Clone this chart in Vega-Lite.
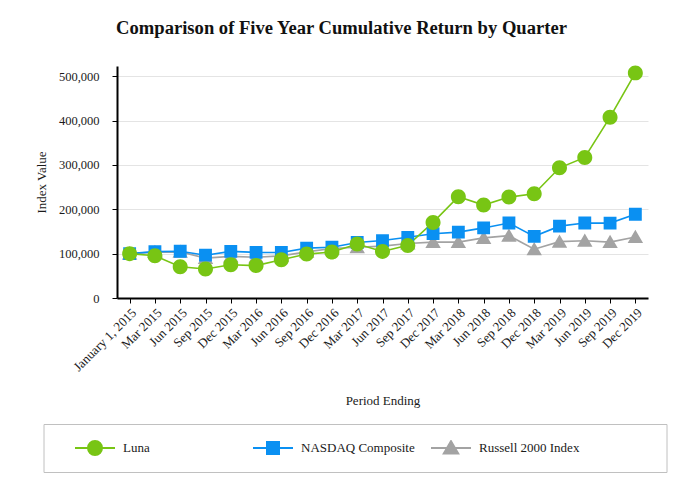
{
  "$schema": "https://vega.github.io/schema/vega-lite/v6.json",
  "width": 531,
  "height": 232,
  "autosize": {"type": "none"},
  "padding": {"left": 117, "top": 66, "right": 34, "bottom": 187},
  "background": "white",
  "title": {
    "text": "Comparison of Five Year Cumulative Return by Quarter",
    "font": "Liberation Serif",
    "fontSize": 18.6,
    "fontWeight": "bold",
    "color": "#111111",
    "anchor": "middle",
    "dx": -41,
    "offset": 28
  },
  "config": {
    "view": {"stroke": null},
    "axis": {
      "labelFont": "Liberation Serif",
      "labelFontSize": 12.5,
      "labelColor": "#1a1a1a",
      "titleFont": "Liberation Serif",
      "titleFontSize": 13,
      "titleFontWeight": "normal",
      "titleColor": "#1a1a1a",
      "domainColor": "#000000",
      "domainWidth": 2,
      "tickColor": "#000000",
      "tickSize": 5
    },
    "legend": {
      "labelFont": "Liberation Serif",
      "labelFontSize": 13,
      "labelColor": "#1a1a1a"
    }
  },
  "data": {
    "values": [
      {"period": "January 1, 2015", "series": "Russell 2000 Index", "value": 100000},
      {"period": "Mar 2015", "series": "Russell 2000 Index", "value": 103500},
      {"period": "Jun 2015", "series": "Russell 2000 Index", "value": 104000},
      {"period": "Sep 2015", "series": "Russell 2000 Index", "value": 90000},
      {"period": "Dec 2015", "series": "Russell 2000 Index", "value": 93800},
      {"period": "Mar 2016", "series": "Russell 2000 Index", "value": 92000},
      {"period": "Jun 2016", "series": "Russell 2000 Index", "value": 95000},
      {"period": "Sep 2016", "series": "Russell 2000 Index", "value": 104000},
      {"period": "Dec 2016", "series": "Russell 2000 Index", "value": 111500},
      {"period": "Mar 2017", "series": "Russell 2000 Index", "value": 114500},
      {"period": "Jun 2017", "series": "Russell 2000 Index", "value": 117000},
      {"period": "Sep 2017", "series": "Russell 2000 Index", "value": 123000},
      {"period": "Dec 2017", "series": "Russell 2000 Index", "value": 126000},
      {"period": "Mar 2018", "series": "Russell 2000 Index", "value": 126000},
      {"period": "Jun 2018", "series": "Russell 2000 Index", "value": 135500},
      {"period": "Sep 2018", "series": "Russell 2000 Index", "value": 140500},
      {"period": "Dec 2018", "series": "Russell 2000 Index", "value": 110000},
      {"period": "Mar 2019", "series": "Russell 2000 Index", "value": 127000},
      {"period": "Jun 2019", "series": "Russell 2000 Index", "value": 129000},
      {"period": "Sep 2019", "series": "Russell 2000 Index", "value": 126000},
      {"period": "Dec 2019", "series": "Russell 2000 Index", "value": 137500},
      {"period": "January 1, 2015", "series": "NASDAQ Composite", "value": 100000},
      {"period": "Mar 2015", "series": "NASDAQ Composite", "value": 104500},
      {"period": "Jun 2015", "series": "NASDAQ Composite", "value": 105500},
      {"period": "Sep 2015", "series": "NASDAQ Composite", "value": 96500},
      {"period": "Dec 2015", "series": "NASDAQ Composite", "value": 105000},
      {"period": "Mar 2016", "series": "NASDAQ Composite", "value": 102800},
      {"period": "Jun 2016", "series": "NASDAQ Composite", "value": 102500},
      {"period": "Sep 2016", "series": "NASDAQ Composite", "value": 112500},
      {"period": "Dec 2016", "series": "NASDAQ Composite", "value": 114500},
      {"period": "Mar 2017", "series": "NASDAQ Composite", "value": 125000},
      {"period": "Jun 2017", "series": "NASDAQ Composite", "value": 129500},
      {"period": "Sep 2017", "series": "NASDAQ Composite", "value": 136800},
      {"period": "Dec 2017", "series": "NASDAQ Composite", "value": 145000},
      {"period": "Mar 2018", "series": "NASDAQ Composite", "value": 148500},
      {"period": "Jun 2018", "series": "NASDAQ Composite", "value": 158000},
      {"period": "Sep 2018", "series": "NASDAQ Composite", "value": 169000},
      {"period": "Dec 2018", "series": "NASDAQ Composite", "value": 139000},
      {"period": "Mar 2019", "series": "NASDAQ Composite", "value": 162000},
      {"period": "Jun 2019", "series": "NASDAQ Composite", "value": 169000},
      {"period": "Sep 2019", "series": "NASDAQ Composite", "value": 168800},
      {"period": "Dec 2019", "series": "NASDAQ Composite", "value": 188800},
      {"period": "January 1, 2015", "series": "Luna", "value": 100000},
      {"period": "Mar 2015", "series": "Luna", "value": 95300},
      {"period": "Jun 2015", "series": "Luna", "value": 70500},
      {"period": "Sep 2015", "series": "Luna", "value": 65300},
      {"period": "Dec 2015", "series": "Luna", "value": 75000},
      {"period": "Mar 2016", "series": "Luna", "value": 73000},
      {"period": "Jun 2016", "series": "Luna", "value": 86300},
      {"period": "Sep 2016", "series": "Luna", "value": 99000},
      {"period": "Dec 2016", "series": "Luna", "value": 103600},
      {"period": "Mar 2017", "series": "Luna", "value": 121600},
      {"period": "Jun 2017", "series": "Luna", "value": 105000},
      {"period": "Sep 2017", "series": "Luna", "value": 118600},
      {"period": "Dec 2017", "series": "Luna", "value": 170400},
      {"period": "Mar 2018", "series": "Luna", "value": 228200},
      {"period": "Jun 2018", "series": "Luna", "value": 209500},
      {"period": "Sep 2018", "series": "Luna", "value": 227500},
      {"period": "Dec 2018", "series": "Luna", "value": 235000},
      {"period": "Mar 2019", "series": "Luna", "value": 293500},
      {"period": "Jun 2019", "series": "Luna", "value": 316800},
      {"period": "Sep 2019", "series": "Luna", "value": 407700},
      {"period": "Dec 2019", "series": "Luna", "value": 507500}
    ]
  },
  "encoding": {
    "x": {
      "field": "period",
      "type": "ordinal",
      "sort": null,
      "scale": {"type": "point", "padding": 0.5},
      "axis": {
        "title": "Period Ending",
        "labelAngle": -45,
        "labelFontSize": 13,
        "labelPadding": 3,
        "titlePadding": 21,
        "grid": false
      }
    },
    "y": {
      "field": "value",
      "type": "quantitative",
      "scale": {"domain": [0, 523000], "nice": false, "zero": true},
      "axis": {
        "title": "Index Value",
        "values": [0, 100000, 200000, 300000, 400000, 500000],
        "format": ",d",
        "labelPadding": 13,
        "titlePadding": 10,
        "grid": true,
        "gridColor": "#e4e4e4",
        "gridWidth": 1
      }
    },
    "color": {
      "field": "series",
      "type": "nominal",
      "scale": {
        "domain": ["Luna", "NASDAQ Composite", "Russell 2000 Index"],
        "range": ["#78C514", "#0A90F2", "#A3A3A3"]
      },
      "legend": {
        "title": " ",
        "titleOrient": "right",
        "titlePadding": 71,
        "orient": "none",
        "legendX": -73.5,
        "legendY": 358,
        "direction": "horizontal",
        "columns": 3,
        "columnPadding": 0,
        "gridAlign": "all",
        "padding": 16,
        "clipHeight": 16,
        "strokeColor": "#c0c0c0",
        "fillColor": "white",
        "symbolSize": 1600,
        "symbolStrokeWidth": 2,
        "symbolOffset": 14.5,
        "labelFont": "Liberation Serif",
        "labelFontSize": 13,
        "labelColor": "#1a1a1a",
        "labelOffset": 7,
        "labelLimit": 300
      }
    }
  },
  "layer": [
    {
      "mark": {"type": "line", "strokeWidth": 1.6}
    },
    {
      "mark": {"type": "point", "filled": true, "size": 1836, "opacity": 1},
      "encoding": {
        "shape": {
          "field": "series",
          "type": "nominal",
          "scale": {
            "domain": ["Luna", "NASDAQ Composite", "Russell 2000 Index"],
            "range": [
              "M-1,0H1M-0.35,0A0.35,0.35,0,1,0,0.35,0A0.35,0.35,0,1,0,-0.35,0Z",
              "M-1,0H1M-0.3,-0.3H0.3V0.3H-0.3Z",
              "M-1,0H1M0,-0.34L0.36,0.28H-0.36Z"
            ]
          },
          "legend": null
        },
        "stroke": {
          "field": "series",
          "type": "nominal",
          "scale": {
            "domain": ["Luna", "NASDAQ Composite", "Russell 2000 Index"],
            "range": ["#78C514", "#0A90F2", "#A3A3A3"]
          },
          "legend": null
        },
        "strokeWidth": {"value": 0}
      }
    }
  ]
}
